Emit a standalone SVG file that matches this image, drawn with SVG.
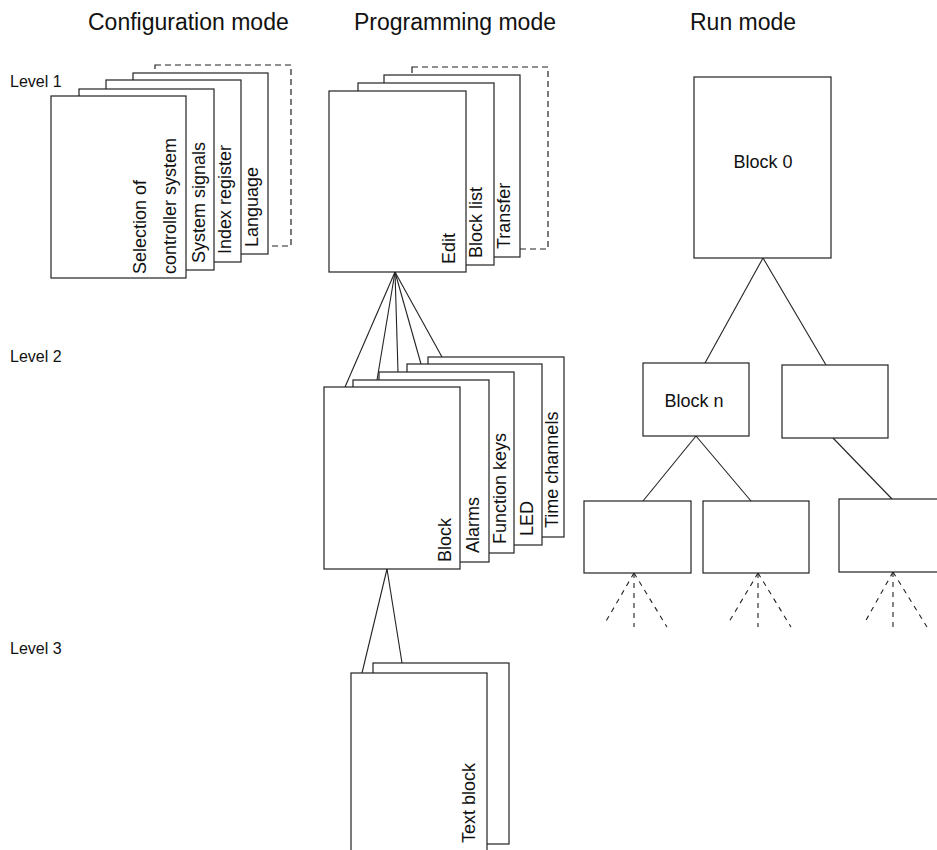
<svg xmlns="http://www.w3.org/2000/svg" width="937" height="850" viewBox="0 0 937 850">
<style>
.c{fill:#fff;stroke:#222;stroke-width:1.2}
.d{fill:#fff;stroke:#222;stroke-width:1.2;stroke-dasharray:6 4}
.l{stroke:#222;stroke-width:1.1;fill:none}
.dl{stroke:#222;stroke-width:1.1;fill:none;stroke-dasharray:5 5}
.t{font-family:"Liberation Sans",Arial,sans-serif;font-size:18px;fill:#111}
.h{font-family:"Liberation Sans",Arial,sans-serif;font-size:23px;fill:#111}
.v{font-family:"Liberation Sans",Arial,sans-serif;font-size:16px;fill:#111}
</style>
<rect width="937" height="850" fill="#fff"/>
<g id="headings">
<text class="h" x="88" y="30">Configuration mode</text>
<text class="h" x="354" y="30">Programming mode</text>
<text class="h" x="690" y="30">Run mode</text>
</g>
<g id="levels">
<text class="v" x="10" y="87">Level 1</text>
<text class="v" x="10" y="362">Level 2</text>
<text class="v" x="10" y="654">Level 3</text>
</g>
<g id="connectors">
<line class="l" x1="395" y1="272" x2="345" y2="387"/>
<line class="l" x1="395" y1="272" x2="377" y2="380"/>
<line class="l" x1="395" y1="272" x2="398" y2="372"/>
<line class="l" x1="395" y1="272" x2="421" y2="364"/>
<line class="l" x1="395" y1="272" x2="442" y2="357"/>
<line class="l" x1="387" y1="569" x2="362" y2="673"/>
<line class="l" x1="387" y1="569" x2="402" y2="663"/>
<line class="l" x1="763" y1="258" x2="705" y2="363"/>
<line class="l" x1="763" y1="258" x2="826" y2="365"/>
<line class="l" x1="696" y1="436" x2="643" y2="501"/>
<line class="l" x1="696" y1="436" x2="751" y2="501"/>
<line class="l" x1="833" y1="438" x2="892" y2="499"/>
<line class="dl" x1="634" y1="573" x2="605" y2="623"/>
<line class="dl" x1="634" y1="573" x2="634" y2="627"/>
<line class="dl" x1="634" y1="573" x2="667" y2="627"/>
<line class="dl" x1="758" y1="573" x2="729" y2="622"/>
<line class="dl" x1="758" y1="573" x2="758" y2="627"/>
<line class="dl" x1="758" y1="573" x2="791" y2="627"/>
<line class="dl" x1="893" y1="572" x2="865" y2="622"/>
<line class="dl" x1="893" y1="572" x2="893" y2="627"/>
<line class="dl" x1="893" y1="572" x2="927" y2="627"/>
</g>
<g id="config-stack">
<rect class="d" x="155" y="65" width="136" height="181"/>
<g id="language"><rect class="c" x="133" y="73" width="135" height="181"/>
<text class="t" transform="translate(258,247) rotate(-90)">Language</text></g>
<g id="index-register"><rect class="c" x="106" y="80" width="135" height="182"/>
<text class="t" transform="translate(231,254) rotate(-90)">Index register</text></g>
<g id="system-signals"><rect class="c" x="79" y="89" width="135" height="181"/>
<text class="t" transform="translate(205,263) rotate(-90)">System signals</text></g>
<g id="selection"><rect class="c" x="51" y="96" width="135" height="182"/>
<text class="t" transform="translate(146,274) rotate(-90)">Selection of</text>
<text class="t" transform="translate(176,274) rotate(-90)">controller system</text></g>
</g>
<g id="prog-stack">
<rect class="d" x="412" y="67" width="136" height="182"/>
<g id="transfer"><rect class="c" x="384" y="75" width="136" height="182"/>
<text class="t" transform="translate(510,249) rotate(-90)">Transfer</text></g>
<g id="block-list"><rect class="c" x="358" y="83" width="136" height="182"/>
<text class="t" transform="translate(482,258) rotate(-90)">Block list</text></g>
<g id="edit"><rect class="c" x="329" y="91" width="137" height="181"/>
<text class="t" transform="translate(455,264) rotate(-90)">Edit</text></g>
</g>
<g id="level2-stack">
<g id="time-channels"><rect class="c" x="428" y="357" width="136" height="180"/>
<text class="t" transform="translate(558,528) rotate(-90)">Time channels</text></g>
<g id="led"><rect class="c" x="407" y="364" width="135" height="181"/>
<text class="t" transform="translate(533,536) rotate(-90)">LED</text></g>
<g id="function-keys"><rect class="c" x="379" y="372" width="135" height="181"/>
<text class="t" transform="translate(506,544) rotate(-90)">Function keys</text></g>
<g id="alarms"><rect class="c" x="353" y="380" width="136" height="182"/>
<text class="t" transform="translate(479,553) rotate(-90)">Alarms</text></g>
<g id="block"><rect class="c" x="324" y="387" width="136" height="182"/>
<text class="t" transform="translate(451,562) rotate(-90)">Block</text></g>
</g>
<g id="level3-stack">
<rect class="c" x="373" y="663" width="136" height="181"/>
<g id="text-block"><rect class="c" x="351" y="673" width="136" height="200"/>
<text class="t" transform="translate(475,843) rotate(-90)">Text block</text></g>
</g>
<g id="run-mode">
<g id="block0"><rect class="c" x="694" y="77" width="137" height="181"/>
<text class="t" x="763" y="168" text-anchor="middle">Block 0</text></g>
<g id="blockn"><rect class="c" x="643" y="363" width="106" height="73"/>
<text class="t" x="694" y="407" text-anchor="middle">Block n</text></g>
<g id="box-r"><rect class="c" x="782" y="365" width="106" height="73"/></g>
<g id="box-1"><rect class="c" x="584" y="501" width="107" height="72"/></g>
<g id="box-2"><rect class="c" x="703" y="501" width="106" height="72"/></g>
<g id="box-3"><rect class="c" x="839" y="499" width="110" height="73"/></g>
</g>
</svg>
